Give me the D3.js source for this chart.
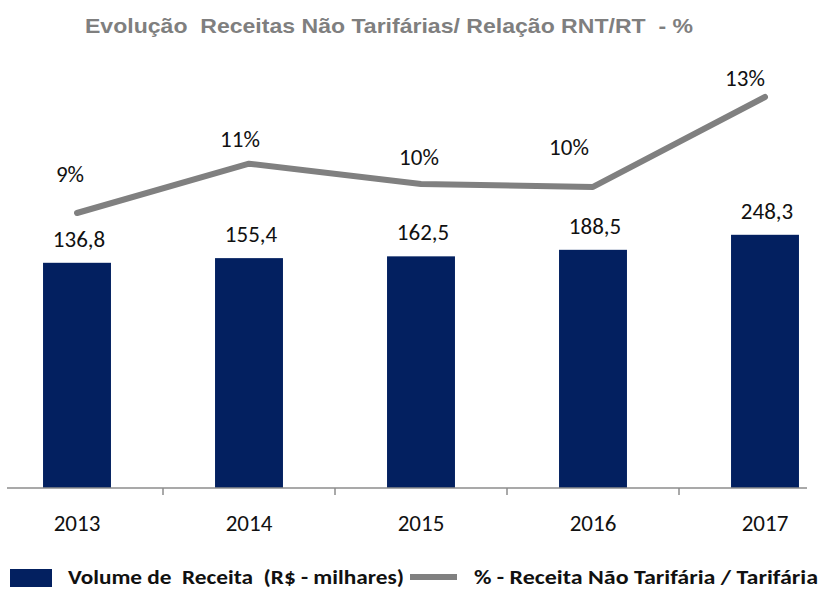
<!DOCTYPE html>
<html>
<head>
<meta charset="utf-8">
<script src="https://cdn.jsdelivr.net/npm/d3@7"></script>
<style>
  body { margin: 0; background: #fff; }
  text { font-family: Carlito, Lato, sans-serif; white-space: pre; }
</style>
</head>
<body>
<script>
// chart data
const years = ['2013', '2014', '2015', '2016', '2017'];
const receita = [136.8, 155.4, 162.5, 188.5, 248.3];
const receitaLabels = ['136,8', '155,4', '162,5', '188,5', '248,3'];
const pctRnt = [9.0, 10.7, 10.0, 9.9, 13.0];
const pctLabels = ['9%', '11%', '10%', '10%', '13%'];

// small nudges for the % labels (layout only)
const pctNudge = [[-7, -31], [-9, -17], [-2, -19], [-24, -32], [-20, -11]];

const width = 821;
const height = 590;
const baseY = 488;

const svg = d3.select('body').append('svg')
    .attr('width', width)
    .attr('height', height);

// scales
const x = d3.scaleBand()
    .domain(years)
    .range([-9, 851])
    .paddingInner(0.605)
    .paddingOuter(0.3025);

const yBar = d3.scaleLinear()
    .domain([-760, 940])
    .range([baseY, 61.1]);

const yPct = d3.scaleLinear()
    .domain([0, 15])
    .range([474, 39]);

// title
svg.append('text')
    .attr('x', 85)
    .attr('y', 33)
    .attr('textLength', 608)
    .attr('lengthAdjust', 'spacingAndGlyphs')
    .style('font-family', 'Liberation Sans, Arial, sans-serif')
    .style('font-weight', 'bold')
    .style('font-size', '21px')
    .attr('fill', '#7f7f7f')
    .text('Evolução  Receitas Não Tarifárias/ Relação RNT/RT  - %');

// bars
svg.append('g')
    .selectAll('rect')
    .data(receita)
    .enter().append('rect')
    .attr('x', (d, i) => x(years[i]))
    .attr('y', d => yBar(d))
    .attr('width', x.bandwidth())
    .attr('height', d => baseY - yBar(d))
    .attr('fill', '#032060');

// bar value labels
svg.append('g')
    .selectAll('text')
    .data(receita)
    .enter().append('text')
    .attr('x', (d, i) => x(years[i]) + x.bandwidth() / 2 + 2)
    .attr('y', d => yBar(d) - 16)
    .attr('text-anchor', 'middle')
    .style('font-size', '23px')
    .attr('fill', '#111')
    .text((d, i) => receitaLabels[i]);

// x axis line and ticks between categories
svg.append('line')
    .attr('x1', 7).attr('x2', 807)
    .attr('y1', baseY).attr('y2', baseY)
    .attr('stroke', '#8c8c8c')
    .attr('stroke-width', 1.5);

svg.append('g')
    .selectAll('line')
    .data(years.slice(1))
    .enter().append('line')
    .attr('x1', d => x(d) - x.step() * x.paddingInner() / 2)
    .attr('x2', d => x(d) - x.step() * x.paddingInner() / 2)
    .attr('y1', baseY)
    .attr('y2', baseY + 7)
    .attr('stroke', '#8c8c8c')
    .attr('stroke-width', 1.5);

const xAxis = d3.axisBottom(x).tickSize(0).tickPadding(0);
const ax = svg.append('g')
    .attr('transform', 'translate(0,' + (baseY + 27) + ')')
    .call(xAxis);
ax.select('.domain').remove();
ax.selectAll('text')
    .style('font-size', '23px')
    .style('font-family', 'Carlito, Lato, sans-serif')
    .attr('fill', '#111')
    .attr('dy', '0.71em');

// % line
const cx = d => x(d) + x.bandwidth() / 2;
const line = d3.line()
    .x((d, i) => cx(years[i]))
    .y(d => yPct(d));

svg.append('path')
    .datum(pctRnt)
    .attr('d', line)
    .attr('fill', 'none')
    .attr('stroke', '#808080')
    .attr('stroke-width', 6)
    .attr('stroke-linecap', 'round')
    .attr('stroke-linejoin', 'round');

svg.append('g')
    .selectAll('text')
    .data(pctRnt)
    .enter().append('text')
    .attr('x', (d, i) => cx(years[i]) + pctNudge[i][0])
    .attr('y', (d, i) => yPct(d) + pctNudge[i][1])
    .attr('text-anchor', 'middle')
    .style('font-size', '23px')
    .attr('fill', '#111')
    .text((d, i) => pctLabels[i]);

// legend
const legend = svg.append('g');
legend.append('rect')
    .attr('x', 10).attr('y', 569)
    .attr('width', 42).attr('height', 18)
    .attr('fill', '#032060');
legend.append('text')
    .attr('x', 68).attr('y', 584)
    .attr('textLength', 336)
    .attr('lengthAdjust', 'spacingAndGlyphs')
    .style('font-size', '20px')
    .style('font-weight', 'bold')
    .attr('fill', '#111')
    .text('Volume de  Receita  (R$ - milhares)');
legend.append('line')
    .attr('x1', 410).attr('x2', 457)
    .attr('y1', 577).attr('y2', 577)
    .attr('stroke', '#808080')
    .attr('stroke-width', 6);
legend.append('text')
    .attr('x', 474).attr('y', 584)
    .attr('textLength', 344)
    .attr('lengthAdjust', 'spacingAndGlyphs')
    .style('font-size', '20px')
    .style('font-weight', 'bold')
    .attr('fill', '#111')
    .text('% - Receita Não Tarifária / Tarifária');
</script>
</body>
</html>
